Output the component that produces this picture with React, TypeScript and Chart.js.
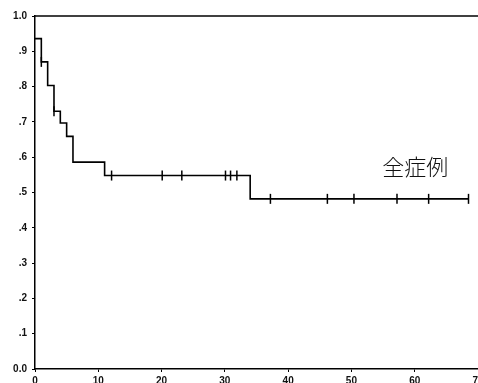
import React, { useEffect, useRef } from "react";
import { Chart, registerables } from "chart.js";

Chart.register(...registerables);

// Kaplan–Meier step curve (time in months, survival proportion)
const stepTimes = [0, 1, 2, 3, 4, 5, 6, 11, 34, 68.5];
const stepSurvival = [0.936, 0.87, 0.803, 0.73, 0.697, 0.659, 0.586, 0.548, 0.482, 0.482];

// Censored observations
const censorTimes = [1, 3, 12.1, 20.1, 23.2, 30.1, 30.9, 31.9, 37.2, 46.2, 50.4, 57.2, 62.2, 68.5];
const censorSurvival = [0.87, 0.73, 0.548, 0.548, 0.548, 0.548, 0.548, 0.548, 0.482, 0.482, 0.482, 0.482, 0.482, 0.482];

const xTickValues = [0, 10, 20, 30, 40, 50, 60, 70];
const yTickLabels = ["0.0", ".1", ".2", ".3", ".4", ".5", ".6", ".7", ".8", ".9", "1.0"];

const curveLabel = "全症例";
const curveLabelPos = { x: 60.1, y: 0.572 };

const W = 490;
const H = 390;

export default function App() {
  const ref = useRef<HTMLCanvasElement | null>(null);

  useEffect(() => {
    if (!ref.current) return;
    const topBorder = {
      id: "topBorder",
      afterDraw(chart: any) {
        const { ctx, chartArea, scales } = chart;
        ctx.save();
        ctx.strokeStyle = "#000";
        ctx.lineWidth = 1.5;
        ctx.beginPath();
        ctx.moveTo(chartArea.left, chartArea.top);
        ctx.lineTo(chartArea.right + 10, chartArea.top);
        ctx.stroke();
        ctx.fillStyle = "#111";
        ctx.font = '300 22px "Noto Sans CJK JP"';
        ctx.textAlign = "center";
        ctx.textBaseline = "middle";
        ctx.fillText(
          curveLabel,
          scales.x.getPixelForValue(curveLabelPos.x),
          scales.y.getPixelForValue(curveLabelPos.y)
        );
        ctx.restore();
      },
    };

    const chart = new Chart(ref.current, {
      type: "scatter",
      data: {
        datasets: [
          {
            data: stepTimes.map((t, i) => ({ x: t, y: stepSurvival[i] })),
            showLine: true,
            stepped: true,
            borderColor: "#000",
            borderWidth: 1.6,
            pointRadius: 0,
          },
          {
            data: censorTimes.map((t, i) => ({ x: t, y: censorSurvival[i] })),
            showLine: false,
            pointStyle: "line",
            rotation: 90,
            pointRadius: 5,
            borderColor: "#000",
            borderWidth: 1.5,
          },
        ],
      },
      options: {
        animation: false,
        responsive: false,
        layout: { padding: { left: 0, top: 16, right: 12, bottom: 0 } },
        plugins: { legend: { display: false }, tooltip: { enabled: false } },
        scales: {
          x: {
            type: "linear",
            min: 0,
            max: 70,
            afterBuildTicks: (scale: any) => {
              scale.ticks = xTickValues.map((v) => ({ value: v }));
            },
            afterFit: (scale: any) => {
              scale.height = 21;
            },
            grid: { drawOnChartArea: false, drawTicks: true, tickLength: 3, color: "#000" },
            border: { color: "#000", width: 1.5 },
            ticks: {
              color: "#111",
              padding: 3,
              maxRotation: 0,
              font: { family: "Liberation Sans", size: 10, weight: "bold" },
            },
          },
          y: {
            type: "linear",
            min: 0,
            max: 1,
            afterBuildTicks: (scale: any) => {
              scale.ticks = yTickLabels.map((_, i) => ({ value: i / 10 }));
            },
            afterFit: (scale: any) => {
              scale.width = 35;
            },
            grid: { drawOnChartArea: false, drawTicks: true, tickLength: 3, color: "#000" },
            border: { color: "#000", width: 1.5 },
            ticks: {
              color: "#111",
              padding: 5,
              font: { family: "Liberation Sans", size: 10, weight: "bold" },
              callback: (v: any) => yTickLabels[Math.round(Number(v) * 10)],
            },
          },
        },
      },
      plugins: [topBorder],
    });
    return () => chart.destroy();
  }, []);

  return (
    <div
      style={{
        position: "fixed",
        left: 0,
        top: 0,
        width: 478,
        height: 383,
        overflow: "hidden",
        background: "#fff",
      }}
    >
      <canvas ref={ref} width={W} height={H} style={{ width: W, height: H, display: "block" }} />
    </div>
  );
}
